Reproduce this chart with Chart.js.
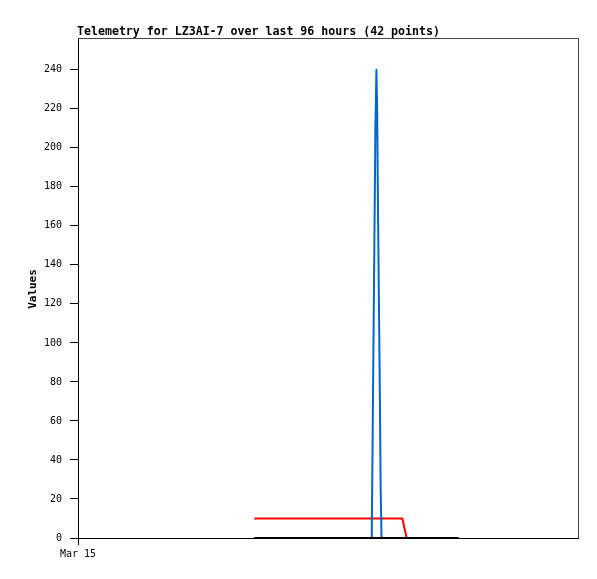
<!DOCTYPE html>
<html>
<head>
<meta charset="utf-8">
<script src="https://cdn.jsdelivr.net/npm/chart.js@4"></script>
<style>
html,body{margin:0;padding:0;background:#fff;}
#wrap{width:597px;height:579px;position:relative;}
</style>
</head>
<body>
<div id="wrap"><canvas id="c" width="597" height="579"></canvas></div>
<script>
const titleText = "Telemetry for LZ3AI-7 over last 96 hours (42 points)";
const yAxisTitle = "Values";
const xTickLabels = ["Mar 15"];
const yTicks = [0,20,40,60,80,100,120,140,160,180,200,220,240];
// hours since left edge of the 96-hour window
const times = [33.86,35.5,37.2,38.9,40.6,42.3,44.0,45.7,47.4,49.1,50.8,52.5,54.2,55.6,
  56.40,56.50,56.70,56.90,57.10,57.30,57.45,57.60,57.78,57.96,58.12,58.28,
  59.3,60.3,61.3,62.27,63.10,64.0,65.0,66.0,67.0,68.0,69.0,70.0,71.0,72.0,72.6,73.05];
const blueVals = [0,0,0,0,0,0,0,0,0,0,0,0,0,0,
  0,30,90,150,210,240,216,168,120,72,24,0,
  0,0,0,0,0,0,0,0,0,0,0,0,0,0,0,0];
const redVals = [10,10,10,10,10,10,10,10,10,10,10,10,10,10,
  10,10,10,10,10,10,10,10,10,10,10,10,
  10,10,10,10,0,0,0,0,0,0,0,0,0,0,0,0];
const blackVals = [0,0,0,0,0,0,0,0,0,0,0,0,0,0,
  0,0,0,0,0,0,0,0,0,0,0,0,
  0,0,0,0,0,0,0,0,0,0,0,0,0,0,0,0];

function pts(vals){ return times.map((t,i)=>({x:t,y:vals[i]})); }

const frame = {
  id:'frame',
  afterDraw(chart){
    const {ctx, chartArea:a} = chart;
    ctx.save();
    ctx.strokeStyle = '#444444';
    ctx.lineWidth = 1;
    ctx.beginPath();
    ctx.moveTo(a.left, a.top+0.5);
    ctx.lineTo(a.right+0.5, a.top+0.5);
    ctx.lineTo(a.right+0.5, a.bottom);
    ctx.stroke();
    ctx.fillStyle = '#000';
    ctx.font = 'bold 11.6px "DejaVu Sans Mono"';
    ctx.textAlign = 'left';
    ctx.textBaseline = 'alphabetic';
    ctx.fillText(titleText, 77, 35);
    ctx.translate(36, 289);
    ctx.rotate(-Math.PI/2);
    ctx.textAlign = 'center';
    ctx.font = 'bold 11px "DejaVu Sans Mono"';
    ctx.fillText(yAxisTitle, 0, 0);
    ctx.restore();
  }
};

new Chart(document.getElementById('c'), {
  type:'line',
  data:{datasets:[
    {data:pts(blackVals), borderColor:'#000000', borderWidth:2, order:0},
    {data:pts(blueVals), borderColor:'#0066cc', borderWidth:2, order:1, tension:0.00001},
    {data:pts(redVals), borderColor:'#ff0000', borderWidth:2, order:2}
  ]},
  options:{
    responsive:false, animation:false,
    layout:{padding:{top:38,right:19,left:0,bottom:0}},
    elements:{point:{radius:0}, line:{tension:0, borderJoinStyle:'round'}},
    plugins:{legend:{display:false}, tooltip:{enabled:false}, title:{display:false}},
    scales:{
      x:{type:'linear', min:0, max:96,
        afterBuildTicks(s){ s.ticks = [{value:0}]; },
        afterFit(s){ s.height = 41; },
        grid:{display:true, drawOnChartArea:false, drawTicks:true, tickLength:7, color:'#000'},
        border:{color:'#000', width:1},
        ticks:{color:'#000', padding:3, maxRotation:0, autoSkip:false,
          font:{family:'DejaVu Sans Mono', size:10},
          callback(v,i){ return xTickLabels[i]; }}
      },
      y:{type:'linear', min:0, max:256.3,
        afterBuildTicks(s){ s.ticks = yTicks.map(v=>({value:v})); },
        afterFit(s){ s.width = 78; },
        grid:{display:true, drawOnChartArea:false, drawTicks:true, tickLength:8, color:'#000'},
        border:{color:'#000', width:1},
        ticks:{color:'#000', padding:8, font:{family:'DejaVu Sans Mono', size:10}}
      }
    }
  },
  plugins:[frame]
});
</script>
</body>
</html>
